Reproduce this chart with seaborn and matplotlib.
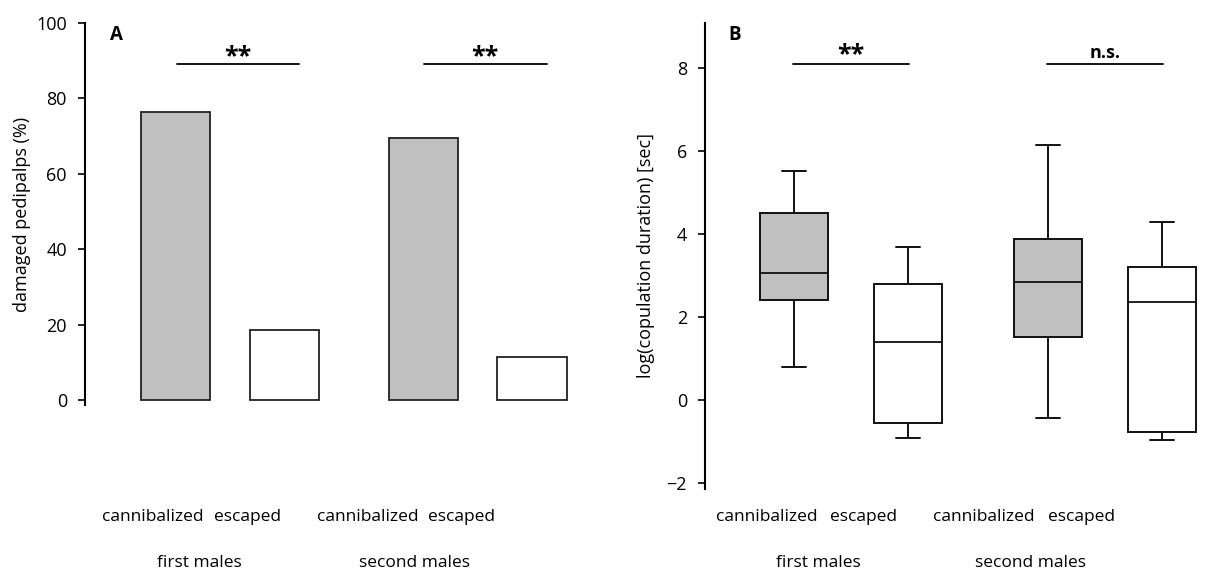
import numpy as np
import pandas as pd
import matplotlib
matplotlib.use("Agg")
import matplotlib.pyplot as plt
import matplotlib.transforms as mtrans
import seaborn as sns

# ---- data ----
groups = ["first males", "second males"]
outcomes = ["cannibalized", "escaped"]

# panel A: damaged pedipalps (%)
damaged_pct = [76.5, 18.6, 69.5, 11.6]

# panel B: five-number summaries of log(copulation duration)
# [min, Q1, median, Q3, max]
first_cann = [0.79, 2.40, 3.05, 4.50, 5.53]
first_esc = [-0.91, -0.55, 1.39, 2.79, 3.70]
second_cann = [-0.44, 1.51, 2.84, 3.89, 6.16]
second_esc = [-0.96, -0.77, 2.37, 3.20, 4.30]

sig_a = ["**", "**"]
sig_b = ["**", "n.s."]

gray = "#c0c0c0"
palette = {"cannibalized": gray, "escaped": "white"}

sns.set_theme(style="ticks")
plt.rcParams["font.family"] = ["Open Sans", "DejaVu Sans"]
plt.rcParams["text.color"] = "black"
plt.rcParams["axes.labelcolor"] = "black"

fig = plt.figure(figsize=(12.11, 5.72), dpi=100)
ax_a = fig.add_axes([0.0702, 0.2920, 0.4253, 0.6678])
ax_b = fig.add_axes([0.5822, 0.1451, 0.4129, 0.8152])

# ---- panel A ----
df_a = pd.DataFrame({
    "group": [g for g in groups for _ in outcomes],
    "outcome": outcomes * 2,
    "pct": damaged_pct,
})
sns.barplot(data=df_a, x="group", y="pct", hue="outcome", palette=palette,
            edgecolor="#222222", linewidth=1.3, width=0.88, gap=0.366,
            legend=False, ax=ax_a)
ax_a.set_xlim(-0.586, 1.495)
ax_a.set_ylim(-1.2, 100)
ax_a.set_yticks([0, 20, 40, 60, 80, 100])
ax_a.set_ylabel("damaged pedipalps (%)", fontsize=13, labelpad=4)
ax_a.set_xlabel("")
ax_a.text(0.049, 0.969, "A", transform=ax_a.transAxes, fontsize=13.5,
          fontweight="bold", va="center")
for i, s in enumerate(sig_a):
    ax_a.plot([i - 0.215, i + 0.28], [89.1, 89.1], color="black", lw=1.3)
    ax_a.text(i + 0.03, 87.8, s, ha="center", va="bottom", fontsize=18,
              fontweight="bold")

# ---- panel B ----
rows = []
for g, o, vals in [(groups[0], outcomes[0], first_cann),
                   (groups[0], outcomes[1], first_esc),
                   (groups[1], outcomes[0], second_cann),
                   (groups[1], outcomes[1], second_esc)]:
    for v in vals:
        rows.append({"group": g, "outcome": o, "logdur": v})
df_b = pd.DataFrame(rows)
sns.boxplot(data=df_b, x="group", y="logdur", hue="outcome", palette=palette,
            whis=(0, 100), width=0.9, gap=0.4, linecolor="#111111",
            linewidth=1.4, legend=False, ax=ax_b,
            medianprops={"color": "#111111", "linewidth": 1.3})
# narrower whisker caps
box_w = 0.9 / 2 * 0.6
for ln in ax_b.lines:
    xd, yd = np.asarray(ln.get_xdata(), float), np.asarray(ln.get_ydata(), float)
    if len(xd) == 2 and yd[0] == yd[1]:
        span = abs(xd[1] - xd[0])
        if span < box_w * 0.9:
            c = xd.mean()
            ln.set_xdata([c - box_w * 0.175, c + box_w * 0.175])

ax_b.set_xlim(-0.575, 1.394)
ax_b.set_ylim(-2.15, 9.1)
ax_b.set_yticks([-2, 0, 2, 4, 6, 8])
ax_b.set_ylabel("log(copulation duration) [sec]", fontsize=13, labelpad=8)
ax_b.set_xlabel("")
ax_b.text(0.046, 0.974, "B", transform=ax_b.transAxes, fontsize=13.5,
          fontweight="bold", va="center")
for i, s in enumerate(sig_b):
    ax_b.plot([i - 0.23, i + 0.23], [8.1, 8.1], color="black", lw=1.3)
    if s == "**":
        ax_b.text(i, 8.03, s, ha="center", va="bottom", fontsize=18,
                  fontweight="bold")
    else:
        ax_b.text(i, 8.15, s, ha="center", va="bottom", fontsize=13,
                  fontweight="bold")

# ---- common axis styling and category labels ----
label_pos = {
    ax_a: ([-0.311, 0.069, 0.558, 0.937], [-0.125, 0.747]),
    ax_b: ([-0.331, 0.051, 0.524, 0.906], [-0.130, 0.705]),
}
for ax in (ax_a, ax_b):
    sns.despine(ax=ax, bottom=True)
    ax.spines["left"].set_linewidth(1.5)
    ax.spines["left"].set_color("black")
    ax.tick_params(axis="y", direction="out", length=5, width=1.2,
                   labelsize=13, pad=8, colors="black")
    ax.tick_params(axis="x", length=0)
    ax.set_xticks([])
    ax.grid(False)
    trans = mtrans.blended_transform_factory(ax.transData, fig.transFigure)
    cat_x, grp_x = label_pos[ax]
    for x, lab in zip(cat_x, outcomes * 2):
        ax.text(x, 0.096, lab, transform=trans, ha="center", va="center",
                fontsize=12.5)
    for x, lab in zip(grp_x, groups):
        ax.text(x, 0.0157, lab, transform=trans, ha="center", va="center",
                fontsize=12.5)

fig.savefig("out.png", dpi=100)
